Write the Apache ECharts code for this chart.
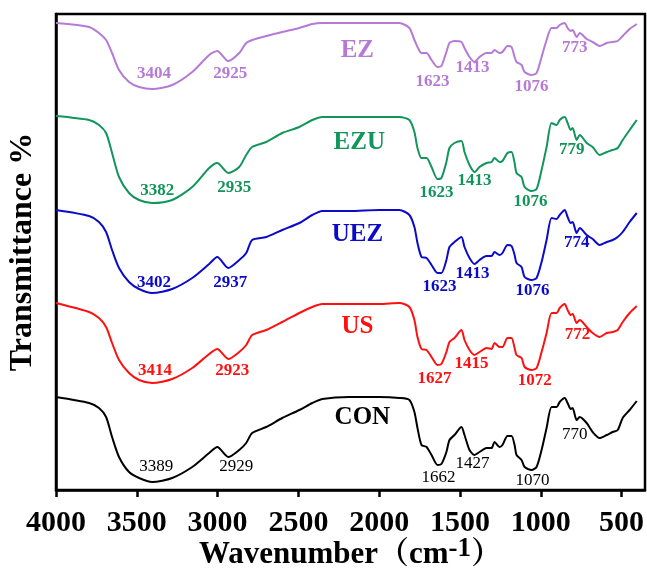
<!DOCTYPE html>
<html><head><meta charset="utf-8">
<script src="https://cdn.jsdelivr.net/npm/echarts@6/dist/echarts.min.js"></script>
<style>html,body{margin:0;padding:0;background:#fff}#c{width:647px;height:570px}</style>
</head><body><div id="c"></div>
<script>
const wavenumbers = [4000,3795,3734,3690,3653,3610,3548,3486,3405,3281,3157,3052,3002,2934,2866,2823,2786,2699,2600,2494,2414,2352,2185,1999,1875,1813,1782,1763,1738,1707,1676,1639,1615,1584,1565,1534,1491,1472,1441,1410,1379,1336,1305,1286,1255,1237,1206,1181,1162,1150,1119,1100,1057,1026,995,964,933,902,883,852,834,815,803,778,759,716,679,636,592,555,524,493,450,406];
const CON = [93,87,82,73,53,33,18,12,8,12,23,37,43,33,40,47,57,63,72,80,87,91,93,93,92,90,78,62,45,43,35,25,26,38,50,55,63,55,40,35,38,42,42,48,43,45,54,54,45,35,30,23,20,23,40,62,83,83,88,92,87,81,82,70,73,67,58,52,55,58,60,72,80,89];
const US = [187,178,172,163,147,130,117,110,107,111,122,136,141,131,138,145,155,160,168,177,183,186,186,186,187,183,170,153,141,140,133,125,126,138,148,152,160,150,140,135,138,142,141,147,143,143,152,152,142,135,132,123,120,122,138,157,177,177,182,186,180,175,176,167,170,163,157,153,157,158,160,168,177,184];
const UEZ = [280,274,268,258,240,222,208,201,197,201,212,226,233,222,230,237,250,253,260,267,275,279,279,280,280,275,263,247,233,232,225,217,217,230,243,248,253,243,232,226,230,234,234,238,235,237,245,244,235,227,223,213,210,212,228,250,272,271,275,280,273,267,268,257,262,255,251,245,248,250,253,258,268,277];
const EZU = [374,370,365,357,337,313,297,290,287,290,303,322,327,317,323,335,343,348,357,363,370,373,373,373,373,370,358,342,332,332,323,311,312,328,342,347,349,338,325,318,323,327,328,332,328,329,337,338,327,317,313,303,299,301,320,343,367,365,370,373,367,360,362,350,355,347,343,335,338,340,342,350,360,370];
const EZ = [467,463,457,450,437,420,408,403,401,405,418,435,439,429,437,447,450,454,458,462,466,467,467,467,467,462,450,443,437,437,430,423,424,438,447,449,448,442,433,428,433,437,437,440,437,438,444,443,433,428,425,418,415,417,433,450,462,462,465,467,462,459,460,453,457,451,448,444,447,448,449,454,461,466];
const xTicks = [4000,3500,3000,2500,2000,1500,1000,500];

// peak annotations: [wavenumber position, transmittance position, text]
const annEZ  = [[3393,416,'3404'],[2922,416,'2925'],[1670,408,'1623'],[1422,422,'1413'],[1057,403,'1076'],[790,442,'773']];
const annEZU = [[3374,299,'3382'],[2897,302,'2935'],[1646,297,'1623'],[1410,309,'1413'],[1063,288,'1076'],[809,340,'779']];
const annUEZ = [[3393,207,'3402'],[2922,207,'2937'],[1627,203,'1623'],[1422,216,'1413'],[1051,199,'1076'],[778,247,'774']];
const annUS  = [[3387,119,'3414'],[2910,119,'2923'],[1658,111,'1627'],[1429,126,'1415'],[1038,109,'1072'],[772,155,'772']];
const annCON = [[3380,23,'3389'],[2885,23,'2929'],[1633,12,'1662'],[1422,26,'1427'],[1051,9,'1070'],[790,55,'770']];
const nameEZ = [2135,439,'EZ'], nameEZU = [2123,347,'EZU'], nameUEZ = [2135,255,'UEZ'], nameUS = [2135,163,'US'], nameCON = [2104,72,'CON'];

const FONT = '"Liberation Serif","Times New Roman","Noto Serif CJK SC","Noto Sans CJK SC",serif';
const samples = [
  {name:'EZ', data:EZ, color:'#B57AD6', ann:annEZ, label:nameEZ, bold:'bold'},
  {name:'EZU', data:EZU, color:'#11955A', ann:annEZU, label:nameEZU, bold:'bold'},
  {name:'UEZ', data:UEZ, color:'#0A0AC8', ann:annUEZ, label:nameUEZ, bold:'bold'},
  {name:'US', data:US, color:'#FF1010', ann:annUS, label:nameUS, bold:'bold'},
  {name:'CON', data:CON, color:'#000000', ann:annCON, label:nameCON, bold:'normal'}
];
const series = [];
samples.forEach(s => {
  series.push({type:'line', name:s.name, data:wavenumbers.map((w,i)=>[w,s.data[i]]),
    showSymbol:false, smooth:0.25, lineStyle:{color:s.color,width:2}, itemStyle:{color:s.color}, z:2});
  const pts = s.ann.map(a=>({value:a}));
  pts.push({value:s.label, label:{fontSize:25, fontWeight:'bold'}});
  series.push({type:'scatter', data:pts, symbolSize:0, silent:true, z:5,
    itemStyle:{opacity:1, color:s.color},
    label:{show:true, position:'inside', opacity:1, formatter:p=>p.value[2], color:s.color,
      fontFamily:FONT, fontSize:17, fontWeight:s.bold}});
});

const chart = echarts.init(document.getElementById('c'), null, {renderer:'canvas'});
chart.setOption({
  animation:false,
  backgroundColor:'#fff',
  grid:{left:56, right:2, top:14, bottom:80, show:true, borderColor:'#000', borderWidth:2.5,
    backgroundColor:'transparent', containLabel:false, outerBoundsMode:'none'},
  xAxis:{type:'value', inverse:true, min:355, max:4000,
    axisLine:{show:true, lineStyle:{color:'#000', width:2.5}},
    axisTick:{show:true, inside:false, length:7, lineStyle:{color:'#000', width:2.5}, customValues:xTicks},
    axisLabel:{color:'#000', fontFamily:FONT, fontSize:30, fontWeight:'bold', margin:18, customValues:xTicks,
      formatter:v=>String(v)},
    splitLine:{show:false},
    name:'{t|Wavenumber（cm}{sup|-1}{t|）}', nameLocation:'middle', nameGap:46, nameMoveOverlap:false,
    nameTextStyle:{color:'#000', fontFamily:FONT, fontSize:31, fontWeight:'bold', verticalAlign:'top',
      rich:{
        t:{fontFamily:FONT, fontSize:31, fontWeight:'bold', color:'#000', lineHeight:34, verticalAlign:'bottom'},
        sup:{fontFamily:FONT, fontSize:27, fontWeight:'bold', color:'#000', lineHeight:8, verticalAlign:'top'}
      }}
  },
  yAxis:{type:'value', min:0, max:476,
    axisLine:{show:true, lineStyle:{color:'#000', width:2.5}},
    axisTick:{show:false}, axisLabel:{show:false}, splitLine:{show:false},
    name:'Transmittance %', nameLocation:'middle', nameRotate:90, nameGap:17,
    nameTextStyle:{color:'#000', fontFamily:FONT, fontSize:32, fontWeight:'bold'}
  },
  series:series
});
</script></body></html>
